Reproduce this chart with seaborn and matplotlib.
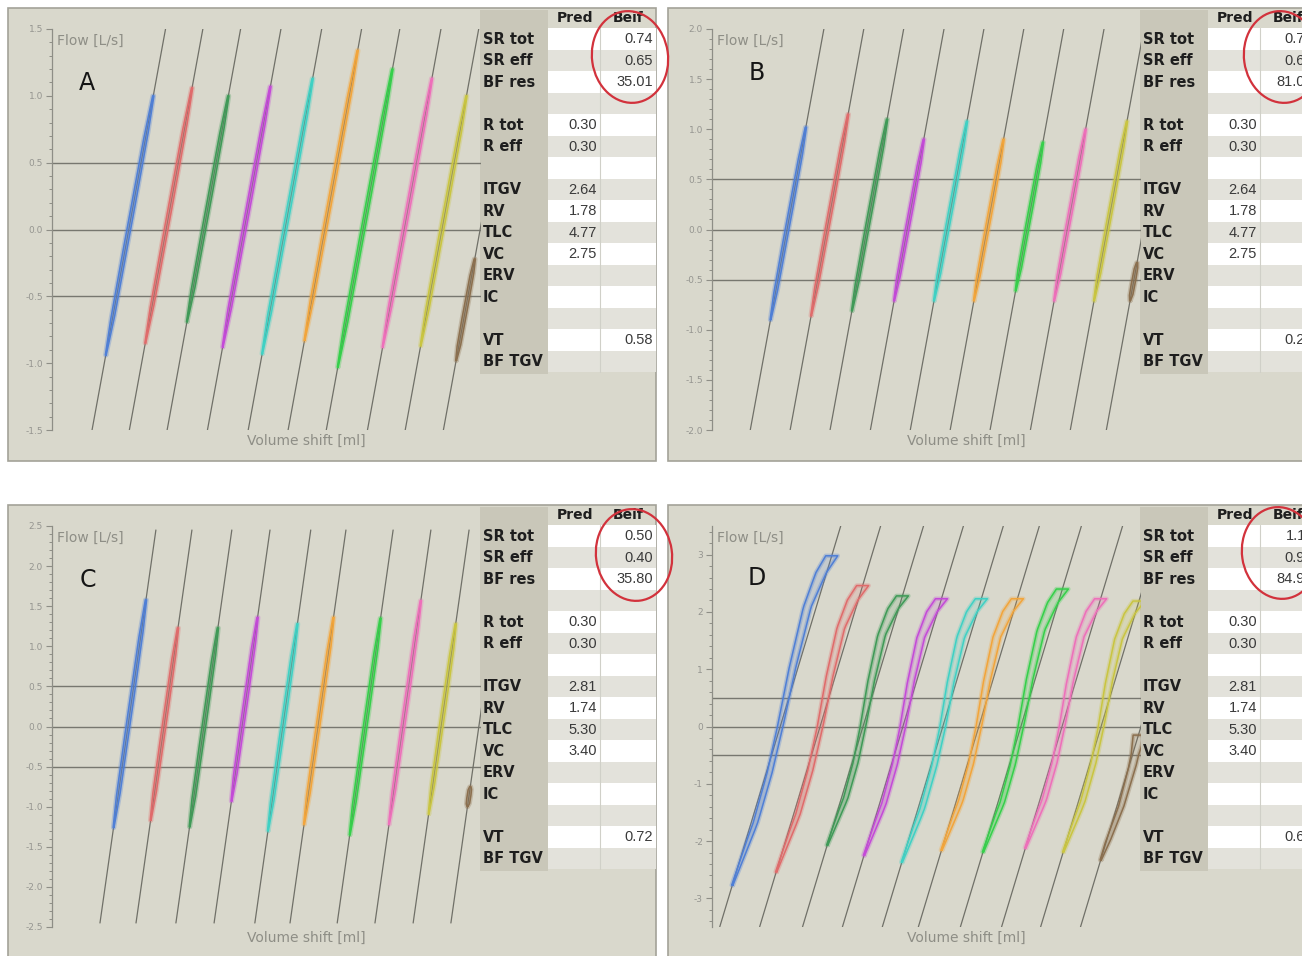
import matplotlib
matplotlib.use("Agg")
import matplotlib.pyplot as plt
import numpy as np
import pandas as pd
import seaborn as sns
from matplotlib.patches import Ellipse, Rectangle
from matplotlib.ticker import FixedLocator, MultipleLocator

W, H = 1302, 956

# ---- table contents (same rows in every panel) ----
row_labels = ["SR tot", "SR eff", "BF res", "", "R tot", "R eff", "",
              "ITGV", "RV", "TLC", "VC", "ERV", "IC", "", "VT", "BF TGV"]

pred_ab = ["", "", "", "", "0.30", "0.30", "", "2.64", "1.78", "4.77", "2.75",
           "", "", "", "", ""]
pred_cd = ["", "", "", "", "0.30", "0.30", "", "2.81", "1.74", "5.30", "3.40",
           "", "", "", "", ""]

beif_a = ["0.74", "0.65", "35.01", "", "", "", "", "", "", "", "", "", "", "", "0.58", ""]
beif_b = ["0.79", "0.64", "81.08", "", "", "", "", "", "", "", "", "", "", "", "0.22", ""]
beif_c = ["0.50", "0.40", "35.80", "", "", "", "", "", "", "", "", "", "", "", "0.72", ""]
beif_d = ["1.11", "0.95", "84.95", "", "", "", "", "", "", "", "", "", "", "", "0.61", ""]

breath_colors = ["#4f7fd6", "#e06b6b", "#3f9a57", "#c44ad8", "#3fd1c4",
                 "#f2a53b", "#35d04a", "#ee6fba", "#c9c541", "#8b6f4e"]

# ---- flow axis per panel ----
a_ymax = 1.5
a_ticks = [-1.5, -1.0, -0.5, 0.0, 0.5, 1.0, 1.5]
a_ticklabels = ["-1.5", "-1.0", "-0.5", "0.0", "0.5", "1.0", "1.5"]
b_ymax = 2.0
b_ticks = [-2.0, -1.5, -1.0, -0.5, 0.0, 0.5, 1.0, 1.5, 2.0]
b_ticklabels = ["-2.0", "-1.5", "-1.0", "-0.5", "0.0", "0.5", "1.0", "1.5", "2.0"]
c_ymax = 2.5
c_ticks = [-2.5, -2.0, -1.5, -1.0, -0.5, 0.0, 0.5, 1.0, 1.5, 2.0, 2.5]
c_ticklabels = ["-2.5", "-2.0", "-1.5", "-1.0", "-0.5", "0.0", "0.5", "1.0", "1.5", "2.0", "2.5"]
d_ymax = 3.5
d_ticks = [-3, -2, -1, 0, 1, 2, 3]
d_ticklabels = ["-3", "-2", "-1", "0", "1", "2", "3"]

ref_flows = [-0.5, 0.0, 0.5]

# ---- shift lines: volume shift per L/s, offset at zero flow, flow span ----
a_slope = 5.71
a_offset = [17.9, 26.6, 35.4, 44.8, 54.3, 63.6, 72.5, 82.1, 90.9, 99.8]
a_span = 1.5
b_slope = 4.29
b_offset = [17.5, 26.8, 36.1, 45.5, 54.8, 64.1, 73.4, 82.8, 92.1, 100.5]
b_span = 2.0
c_slope = 2.66
c_offset = [17.7, 26.1, 35.4, 44.3, 53.8, 62.0, 73.0, 81.8, 90.7, 99.5]
c_span = 2.45
d_slope = 4.03
d_offset = [15.9, 25.2, 35.2, 44.5, 53.8, 62.2, 72.0, 81.6, 90.7, 100.0]
d_span = 3.5

# ---- breathing loops: lowest / highest flow of each loop ----
a_lo = [-0.94, -0.85, -0.69, -0.88, -0.93, -0.83, -1.03, -0.88, -0.87, -0.98]
a_hi = [1.00, 1.06, 1.00, 1.07, 1.13, 1.34, 1.20, 1.13, 1.00, -0.22]
b_lo = [-0.90, -0.86, -0.81, -0.71, -0.71, -0.71, -0.61, -0.71, -0.71, -0.71]
b_hi = [1.02, 1.15, 1.10, 0.90, 1.08, 0.90, 0.87, 1.00, 1.08, -0.33]
c_lo = [-1.26, -1.17, -1.25, -0.93, -1.30, -1.22, -1.35, -1.22, -1.09, -1.00]
c_hi = [1.58, 1.23, 1.23, 1.36, 1.28, 1.36, 1.35, 1.57, 1.28, -0.75]
d_lo = [-2.77, -2.54, -2.07, -2.25, -2.37, -2.16, -2.19, -2.12, -2.19, -2.33]
d_hi = [2.98, 2.46, 2.28, 2.23, 2.23, 2.23, 2.40, 2.23, 2.19, -0.15]

# loop shape: sideways bend along the loop and loop width
q_grid = [-1.0, -0.6, -0.3, 0.0, 0.35, 0.7, 0.9, 1.0]
straight_bend = [0.0, 0.0, 0.0, 0.0, 0.0, 0.0, 0.0, 0.0]
d_bend = [0.0, 1.0, 0.8, 0.0, -1.3, -2.1, -1.3, 0.0]
t_grid = [0.0, 0.15, 0.5, 0.85, 1.0]
thin_width = [0.2, 0.8, 0.9, 0.8, 0.3]
d_width = [0.3, 1.0, 1.3, 1.8, 2.8]

PANEL_BG = "#d9d8cc"
LABEL_BG = "#c9c7b9"
ROW_GRAY = "#e3e2db"
LINE_GRAY = "#707068"
AXIS_GRAY = "#8e8e86"


def px_rect(x0, y0, w, h):
    return [x0 / W, 1 - (y0 + h) / H, w / W, h / H]


def loop_outline(off, lo, hi, slope, bend, width):
    f = np.linspace(lo, hi, 80)
    q = np.where(f < 0, f / abs(lo), f / max(abs(hi), 1e-6))
    t = (f - lo) / (hi - lo)
    centre = off + slope * f + np.interp(q, q_grid, bend)
    w = np.interp(t, t_grid, width)
    xs = np.concatenate([centre + w / 2, (centre - w / 2)[::-1], [centre[0] + w[0] / 2]])
    ys = np.concatenate([f, f[::-1], [f[0]]])
    return xs, ys


def draw_table(bg, ox, oy, pred, beif):
    tx, ty, rh = ox + 472, oy + 20, 21.5
    bg.add_patch(Rectangle((tx, oy + 2), 68, 20 + 16 * rh, fc=LABEL_BG, lw=0, zorder=2))
    for i, lab in enumerate(row_labels):
        y = ty + i * rh
        fc = "white" if i % 2 == 0 else ROW_GRAY
        bg.add_patch(Rectangle((tx + 68, y), 108, rh, fc=fc, lw=0, zorder=2))
        if lab:
            bg.text(tx + 3, y + rh / 2 + 0.5, lab, fontsize=10.5, fontweight="bold",
                    color="#1e1e1e", va="center", ha="left", zorder=4)
        if pred[i]:
            bg.text(ox + 589, y + rh / 2 + 0.5, pred[i], fontsize=10.5,
                    family="Liberation Sans", color="#3a3a3a", va="center", ha="right", zorder=4)
        if beif[i]:
            bg.text(ox + 645, y + rh / 2 + 0.5, beif[i], fontsize=10.5,
                    family="Liberation Sans", color="#3a3a3a", va="center", ha="right", zorder=4)
    bg.plot([ox + 592, ox + 592], [ty, ty + 16 * rh], color="#d0d0c8", lw=0.8, zorder=3)
    bg.text(ox + 567, oy + 10, "Pred", fontsize=10, fontweight="bold", color="#1e1e1e",
            ha="center", va="center", zorder=4)
    bg.text(ox + 620, oy + 10, "Beif", fontsize=10, fontweight="bold", color="#1e1e1e",
            ha="center", va="center", zorder=4)


def draw_panel(fig, bg, p):
    ox, oy = p["origin"]
    bg.add_patch(Rectangle((ox, oy), 648, 453, fc=PANEL_BG, ec="#a3a298", lw=1.2, zorder=1))
    draw_table(bg, ox, oy, p["pred"], p["beif"])
    cx, cy = p["circle"]
    bg.add_patch(Ellipse((ox + cx, oy + cy), 76, 92, angle=-8, fc="none",
                         ec="#d2323c", lw=1.6, zorder=6))
    lx, ly = p["letter"]
    bg.text(ox + lx, oy + ly, p["name"], fontsize=17, color="#151515",
            ha="center", va="center", zorder=4)
    bg.text(ox + 49, oy + 33, "Flow [L/s]", fontsize=10, color=AXIS_GRAY,
            ha="left", va="center", zorder=4)
    bg.text(ox + 298, oy + 433, "Volume shift [ml]", fontsize=10, color=AXIS_GRAY,
            ha="center", va="center", zorder=4)

    ax = fig.add_axes(px_rect(ox + 44, oy + 21, 429, 401))
    ax.patch.set_alpha(0)
    ax.set_zorder(5)

    for fl in ref_flows:
        ax.axhline(fl, color="#77776f", lw=1.0, zorder=1)

    n = len(p["offset"])
    names = [f"b{i}" for i in range(n)]
    span = p["span"]
    lines = pd.DataFrame({
        "vol": [o + p["slope"] * s for o in p["offset"] for s in (-span, span)],
        "flow": [s for _ in p["offset"] for s in (-span, span)],
        "breath": [nm for nm in names for _ in range(2)],
    })
    sns.lineplot(data=lines, x="vol", y="flow", units="breath", estimator=None,
                 sort=False, color=LINE_GRAY, lw=0.9, ax=ax, legend=False)

    frames = []
    for i in range(n):
        xs, ys = loop_outline(p["offset"][i], p["lo"][i], p["hi"][i], p["slope"],
                              p["bend"], p["width"])
        ax.fill(xs, ys, color=breath_colors[i], alpha=p["fill"], lw=0, zorder=3)
        ax.plot(xs, ys, color=breath_colors[i], alpha=0.3, lw=3.2, zorder=3,
                solid_joinstyle="round")
        frames.append(pd.DataFrame({"vol": xs, "flow": ys, "breath": names[i]}))
    loops = pd.concat(frames, ignore_index=True)
    sns.lineplot(data=loops, x="vol", y="flow", hue="breath", estimator=None, sort=False,
                 palette=dict(zip(names, breath_colors)), lw=1.1, ax=ax, legend=False,
                 zorder=4)

    ax.set_xlim(0, 100)
    ax.set_ylim(-p["ymax"], p["ymax"])
    ax.yaxis.set_major_locator(FixedLocator(p["ticks"]))
    ax.set_yticklabels(p["ticklabels"])
    ax.yaxis.set_minor_locator(MultipleLocator(p["minor"]))
    ax.set_xticks([])
    ax.set_xlabel("")
    ax.set_ylabel("")
    for side in ("top", "right", "bottom"):
        ax.spines[side].set_visible(False)
    ax.spines["left"].set_color(AXIS_GRAY)
    ax.spines["left"].set_linewidth(0.9)
    ax.tick_params(axis="y", which="major", direction="out", length=4.5, width=0.8,
                   color=AXIS_GRAY, labelcolor="#959590", labelsize=6.5, pad=2, left=True)
    ax.tick_params(axis="y", which="minor", direction="out", length=2.2, width=0.7,
                   color=AXIS_GRAY, left=True)


sns.set_theme(style="white")
plt.rcParams["font.family"] = ["DejaVu Sans"]

panels = [
    dict(name="A", origin=(8, 8), pred=pred_ab, beif=beif_a, circle=(622, 49), letter=(79, 75),
         ymax=a_ymax, ticks=a_ticks, ticklabels=a_ticklabels, minor=0.1, slope=a_slope,
         offset=a_offset, span=a_span, lo=a_lo, hi=a_hi, bend=straight_bend,
         width=thin_width, fill=0.35),
    dict(name="B", origin=(668, 8), pred=pred_ab, beif=beif_b, circle=(614, 49), letter=(89, 65),
         ymax=b_ymax, ticks=b_ticks, ticklabels=b_ticklabels, minor=0.1, slope=b_slope,
         offset=b_offset, span=b_span, lo=b_lo, hi=b_hi, bend=straight_bend,
         width=thin_width, fill=0.35),
    dict(name="C", origin=(8, 505), pred=pred_cd, beif=beif_c, circle=(626, 50), letter=(80, 75),
         ymax=c_ymax, ticks=c_ticks, ticklabels=c_ticklabels, minor=0.1, slope=c_slope,
         offset=c_offset, span=c_span, lo=c_lo, hi=c_hi, bend=straight_bend,
         width=thin_width, fill=0.35),
    dict(name="D", origin=(668, 505), pred=pred_cd, beif=beif_d, circle=(612, 48), letter=(89, 73),
         ymax=d_ymax, ticks=d_ticks, ticklabels=d_ticklabels, minor=0.2, slope=d_slope,
         offset=d_offset, span=d_span, lo=d_lo, hi=d_hi, bend=d_bend,
         width=d_width, fill=0.15),
]

fig = plt.figure(figsize=(W / 100, H / 100), dpi=100, facecolor="white")
bg = fig.add_axes([0, 0, 1, 1])
bg.set_xlim(0, W)
bg.set_ylim(H, 0)
bg.axis("off")
bg.set_zorder(0)

for p in panels:
    draw_panel(fig, bg, p)

fig.savefig("out.png", dpi=100, facecolor="white")
